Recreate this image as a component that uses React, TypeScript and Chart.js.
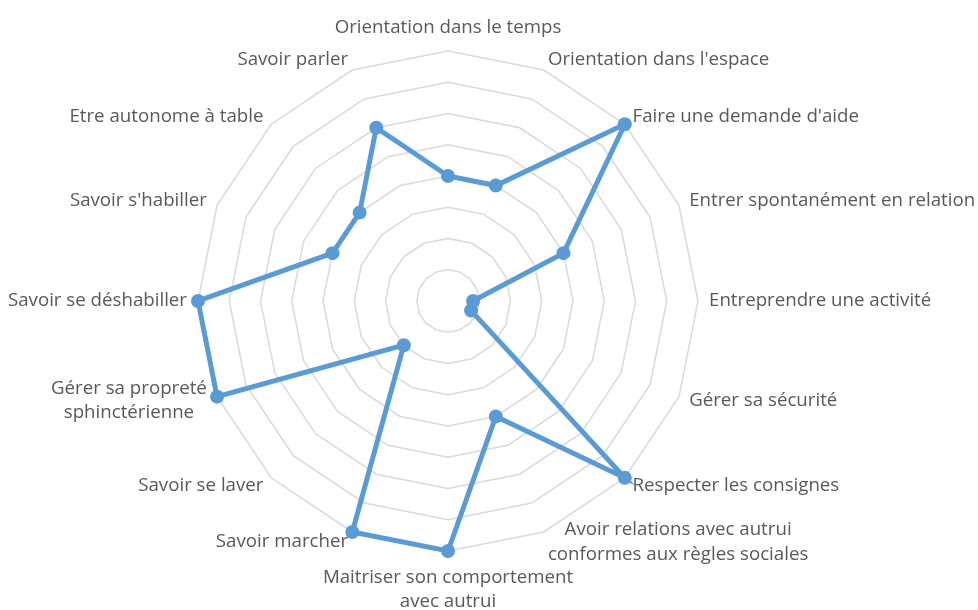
import React, { useEffect, useRef } from "react";
import { Chart, registerables } from "chart.js";

Chart.register(...registerables);

const CATEGORIES: (string | string[])[] = [
  "Orientation dans le temps",
  "Orientation dans l'espace",
  "Faire une demande d'aide",
  "Entrer spontanément en relation",
  "Entreprendre une activité",
  "Gérer sa sécurité",
  "Respecter les consignes",
  ["Avoir relations avec autrui", "conformes aux règles sociales"],
  ["Maitriser son comportement", "avec autrui"],
  "Savoir marcher",
  "Savoir se laver",
  ["Gérer sa propreté", "sphinctérienne"],
  "Savoir se déshabiller",
  "Savoir s'habiller",
  "Etre autonome à table",
  "Savoir parler",
];

const SCORES: number[] = [2, 2, 4, 2, 0.4, 0.4, 4, 2, 4, 4, 1, 4, 4, 2, 2, 3];

const SCALE_MIN = 0;
const SCALE_MAX = 4;
const SCALE_STEP = 0.5;

const FONT = '18.7px "Open Sans", sans-serif';
const LINE_H = 24.5;
const LABEL_GAP = 11;
const TEXT_COLOR = "#595959";

const labelPlugin = {
  id: "excelPointLabels",
  afterDraw(chart: any) {
    const scale = chart.scales.r;
    const ctx = chart.ctx as CanvasRenderingContext2D;
    const labels = chart.data.labels as (string | string[])[];
    ctx.save();
    ctx.font = FONT;
    ctx.fillStyle = TEXT_COLOR;
    ctx.textBaseline = "middle";
    ctx.textAlign = "center";
    for (let i = 0; i < labels.length; i++) {
      const lines = ([] as string[]).concat(labels[i] as any);
      const pos = scale.getPointPosition(i, scale.drawingArea + LABEL_GAP);
      const angle = scale.getIndexAngle(i);
      const s = Math.sin(angle);
      const c = Math.cos(angle);
      const h = lines.length * LINE_H;
      const w = Math.max(...lines.map((l) => ctx.measureText(l).width));
      let left: number;
      let top: number;
      if (Math.abs(s) < 0.01) {
        left = pos.x - w / 2;
        top = c > 0 ? pos.y - h : pos.y + 3;
      } else {
        left = s > 0 ? pos.x : pos.x - w;
        top = pos.y - h / 2;
      }
      lines.forEach((l, j) => {
        ctx.fillText(l, left + w / 2, top + LINE_H * (j + 0.5));
      });
    }
    ctx.restore();
  },
};

export default function App() {
  const ref = useRef<HTMLCanvasElement | null>(null);

  useEffect(() => {
    if (!ref.current) return;
    const chart = new Chart(ref.current, {
      type: "radar",
      data: {
        labels: CATEGORIES,
        datasets: [
          {
            label: "Score",
            data: SCORES,
            borderColor: "#5b9bd5",
            backgroundColor: "#5b9bd5",
            borderWidth: 5,
            fill: false,
            tension: 0,
            pointRadius: 7,
            pointBorderWidth: 0,
            pointBackgroundColor: "#5b9bd5",
            pointBorderColor: "#5b9bd5",
          },
        ],
      },
      options: {
        responsive: false,
        animation: false,
        events: [],
        layout: { padding: { left: 198, right: 280, top: 51, bottom: 59 } },
        plugins: {
          legend: { display: false },
          tooltip: { enabled: false },
        },
        scales: {
          r: {
            min: SCALE_MIN,
            max: SCALE_MAX,
            beginAtZero: true,
            ticks: { display: false, stepSize: SCALE_STEP },
            grid: { color: "#d9d9d9", lineWidth: 1.5, circular: false },
            angleLines: { display: false },
            pointLabels: { display: false },
          },
        },
      },
      plugins: [labelPlugin],
    });
    return () => chart.destroy();
  }, []);

  return (
    <div style={{ position: "fixed", left: 0, top: 0, width: 978, height: 610, background: "#fff" }}>
      <canvas ref={ref} width={978} height={610} />
    </div>
  );
}
